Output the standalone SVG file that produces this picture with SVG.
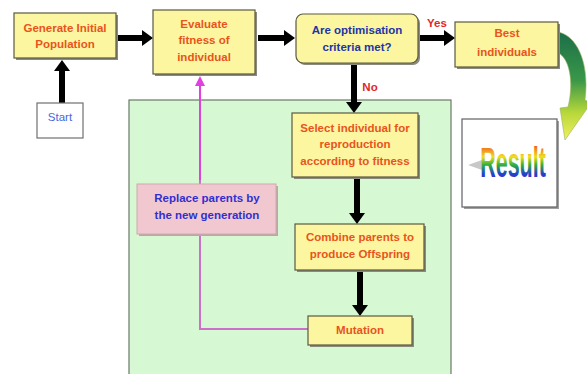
<svg xmlns="http://www.w3.org/2000/svg" width="587" height="374" viewBox="0 0 587 374">
<defs>
<style>
.yb{fill:#fdf6a0;stroke:#5a5a40;stroke-width:1.2}
.sh{fill:#8a8a80}
.t{font-family:"Liberation Sans",Arial,sans-serif;font-size:11.5px;font-weight:bold;text-anchor:middle}
.o{fill:#e8541c}
.b{fill:#2234a8}
.ba{stroke:#000;stroke-width:6;fill:none}
.bh{fill:#000}
</style>
<linearGradient id="curve" x1="0" y1="0" x2="0" y2="1">
<stop offset="0" stop-color="#1c6e48"/>
<stop offset="0.45" stop-color="#3a9848"/>
<stop offset="0.75" stop-color="#b8d83a"/>
<stop offset="1" stop-color="#f2f060"/>
</linearGradient>
<linearGradient id="rainbow" x1="0" y1="0" x2="0" y2="1">
<stop offset="0" stop-color="#e8104a"/>
<stop offset="0.2" stop-color="#f08020"/>
<stop offset="0.38" stop-color="#f0e020"/>
<stop offset="0.55" stop-color="#30b040"/>
<stop offset="0.75" stop-color="#2040d0"/>
<stop offset="1" stop-color="#8020a0"/>
</linearGradient>
</defs>
<rect width="587" height="374" fill="#ffffff"/>

<g id="loop-region">
<rect x="129" y="100" width="322" height="276" fill="#d6f8d2" stroke="#6a7a6a" stroke-width="1.2"/>
</g>

<g id="connectors">
<path d="M308,329 H200 V84" fill="none" stroke="#cc70cc" stroke-width="2"/>
<path d="M200,84 V180" fill="none" stroke="#e040e0" stroke-width="2"/>
<polygon points="200,76 195,86 205,86" fill="#e040e0"/>
<line class="ba" x1="117" y1="38" x2="143" y2="38"/>
<polygon class="bh" points="153,38 142,30 142,46"/>
<line class="ba" x1="258" y1="38" x2="285" y2="38"/>
<polygon class="bh" points="295,38 284,30 284,46"/>
<line class="ba" x1="420" y1="38" x2="445" y2="38"/>
<polygon class="bh" points="455,38 444,30 444,46"/>
<line class="ba" x1="354" y1="64" x2="354" y2="103"/>
<polygon class="bh" points="354,113 346,102 362,102"/>
<line class="ba" x1="357" y1="178" x2="357" y2="214"/>
<polygon class="bh" points="357,224 349,213 365,213"/>
<line class="ba" x1="360" y1="271" x2="360" y2="306"/>
<polygon class="bh" points="360,316 352,305 368,305"/>
<line class="ba" x1="62" y1="103" x2="62" y2="70"/>
<polygon class="bh" points="62,60 54,71 70,71"/>
<path d="M557,32 C576,34 590,62 585,100 L591,103 L565,140 L560,108 L568,107 C574,82 570,58 557,52 Z" fill="url(#curve)" stroke="#9ab060" stroke-width="0.6"/>
<text class="t" x="437" y="27" fill="#e02828">Yes</text>
<text class="t" x="370" y="91" fill="#e02828">No</text>
</g>

<g id="generate">
<rect class="sh" x="16" y="15" width="102" height="45"/>
<rect class="yb" x="14" y="13" width="102" height="45"/>
<text class="t o" x="65" y="32">Generate Initial</text>
<text class="t o" x="65" y="48">Population</text>
</g>

<g id="start">
<rect x="37" y="103" width="46" height="35" fill="#ffffff" stroke="#707070" stroke-width="1.2"/>
<text class="t" x="60" y="121" fill="#4a66e0" style="font-weight:normal">Start</text>
</g>

<g id="evaluate">
<rect class="sh" x="155" y="12" width="102" height="64"/>
<rect class="yb" x="153" y="10" width="102" height="64"/>
<text class="t o" x="204" y="28">Evaluate</text>
<text class="t o" x="204" y="44">fitness of</text>
<text class="t o" x="204" y="61">individual</text>
</g>

<g id="criteria">
<rect class="sh" x="298" y="16" width="122" height="49" rx="7"/>
<rect class="yb" x="296" y="14" width="122" height="49" rx="7"/>
<text class="t b" x="357" y="34">Are optimisation</text>
<text class="t b" x="357" y="51">criteria met?</text>
</g>

<g id="best">
<rect class="sh" x="457" y="24" width="103" height="45"/>
<rect class="yb" x="455" y="22" width="103" height="45"/>
<text class="t o" x="507" y="37">Best</text>
<text class="t o" x="507" y="56">individuals</text>
</g>

<g id="result">
<rect x="464" y="121" width="95" height="88" fill="#a0a0a0"/>
<rect x="462" y="119" width="95" height="88" fill="#ffffff" stroke="#606060" stroke-width="1.2"/>
<polygon points="468,165 482,160 482,170" fill="#c8c8c8"/>
<text transform="translate(513,177) scale(1,1.95)" x="0" y="0" font-family="'Liberation Sans',Arial,sans-serif" font-size="21.5" font-weight="bold" text-anchor="middle" fill="url(#rainbow)">Result</text>
</g>

<g id="select">
<rect class="sh" x="294" y="115" width="126" height="64"/>
<rect class="yb" x="292" y="113" width="126" height="64"/>
<text class="t o" x="355" y="132">Select individual for</text>
<text class="t o" x="355" y="148">reproduction</text>
<text class="t o" x="355" y="165">according to fitness</text>
</g>

<g id="replace">
<rect x="139" y="186" width="139" height="50" fill="#b8a8a8"/>
<rect x="137" y="184" width="139" height="50" fill="#f2c8d0" stroke="#d0a8b0" stroke-width="1"/>
<text class="t" x="207" y="202" fill="#3030d0">Replace parents by</text>
<text class="t" x="207" y="219" fill="#3030d0">the new generation</text>
</g>

<g id="combine">
<rect class="sh" x="297" y="226" width="129" height="46"/>
<rect class="yb" x="295" y="224" width="129" height="46"/>
<text class="t o" x="360" y="241">Combine parents to</text>
<text class="t o" x="360" y="258">produce Offspring</text>
</g>

<g id="mutation">
<rect class="sh" x="310" y="318" width="104" height="29"/>
<rect class="yb" x="308" y="316" width="104" height="29"/>
<text class="t o" x="360" y="334">Mutation</text>
</g>
</svg>
